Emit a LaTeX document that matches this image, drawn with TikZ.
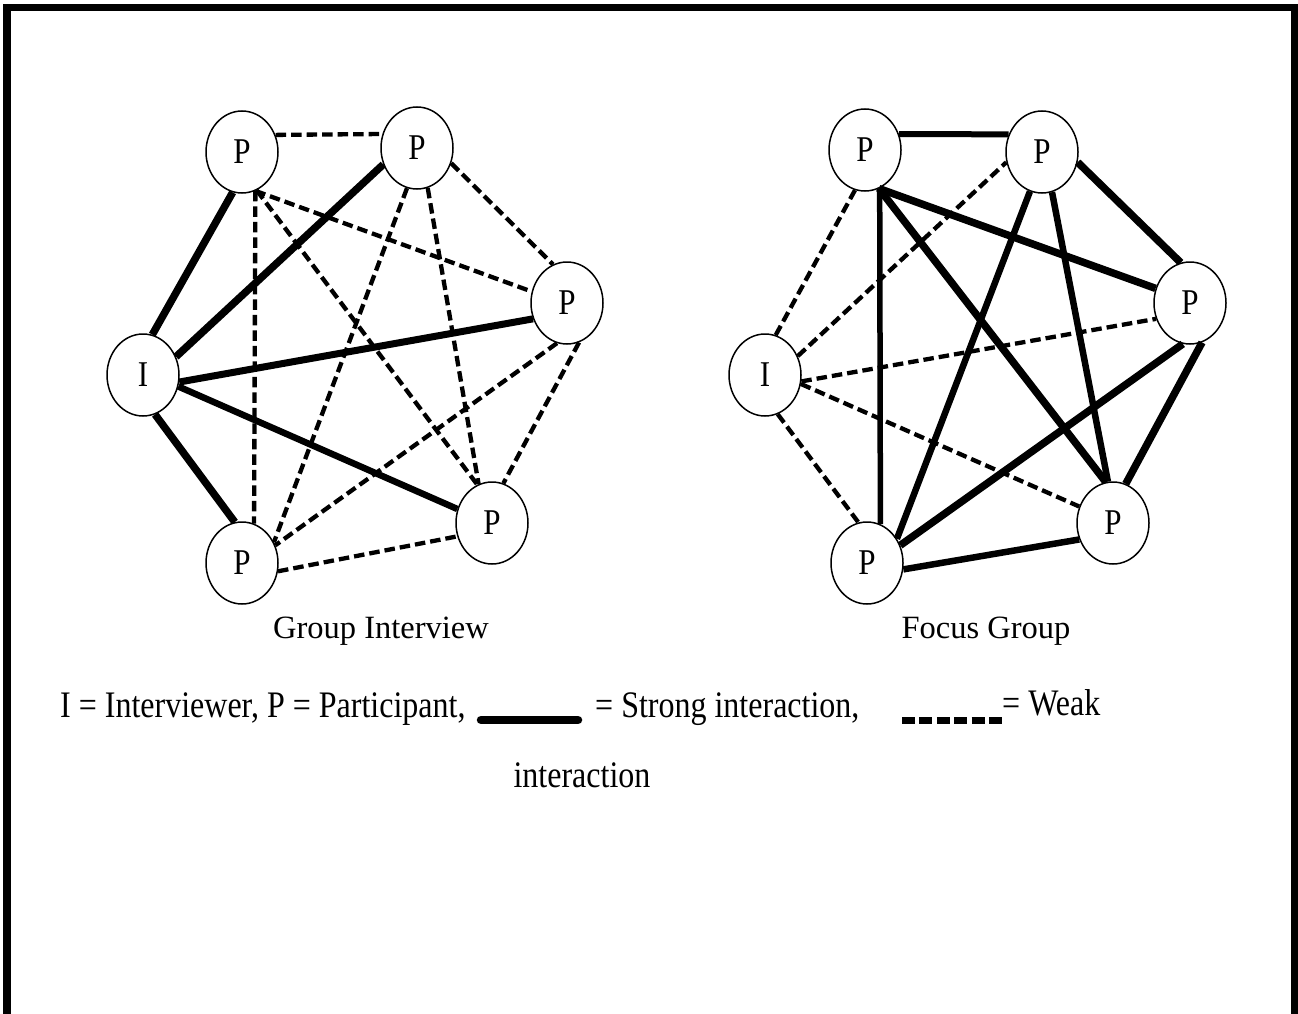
\documentclass[tikz,border=0pt]{standalone}
\usepackage{fontspec}
\setmainfont{Liberation Serif}
\usetikzlibrary{shapes.geometric}
% text in this figure is set slightly taller than wide
\newcommand{\tallstr}[2][1.17]{\scalebox{1}[#1]{#2}}

\begin{document}
\begin{tikzpicture}[x=1pt,y=-1pt,
  person/.style={draw, line width=1.5pt, ellipse, fill=white,
    minimum width=72pt, minimum height=82pt, inner sep=0pt,
    font=\fontsize{31}{34}\selectfont},
  strong/.style={line width=7.5pt},
  weak/.style={line width=4.3pt, dash pattern=on 10.5pt off 5pt},
  caption/.style={inner sep=0pt, anchor=base, font=\fontsize{32.5}{36}\selectfont},
  legend/.style={inner sep=0pt, font=\fontsize{32}{36}\selectfont}]

\useasboundingbox (0,0) rectangle (1298,1014);
% frame open at the bottom
\draw[line width=7.5pt] (7,1030) -- (7,7.5) -- (1294.5,7.5) -- (1294.5,1030);

% ---------- Group interview ----------
\node[person] (gI) at (143,375) {\tallstr{I}};
\node[person] (gA) at (242,152) {\tallstr{P}};
\node[person] (gB) at (417,148) {\tallstr{P}};
\node[person] (gC) at (567,303) {\tallstr{P}};
\node[person] (gD) at (492,523) {\tallstr{P}};
\node[person] (gE) at (242,563) {\tallstr{P}};

\draw[strong] (gI.77) -- (gA.-103);
\draw[strong] (gI.29) -- (gB.-154);
\draw[strong, line width=7pt] (gI.-11) -- (gC.-155);
\draw[strong, line width=6.5pt] (gI.-18) -- (gD.158);
\draw[strong] (gI.-73) -- (gE.100);

\draw[weak] (gA.27) -- (gB.158);
\draw[weak] (gA.-71) -- (gE.73);
\draw[weak] (gA.-71) -- (gC.162);
\draw[weak] (gA.-69) -- (gD.111);
\draw[weak] (gB.-24) -- (gC.110);
\draw[weak] (gB.-104) -- (gE.33);
\draw[weak] (gB.-75) -- (gD.109);
\draw[weak] (gC.-104) -- (gE.28);
\draw[weak] (gC.-73) -- (gD.74);
\draw[weak] (gE.-13) -- (gD.-159);

\node[caption] (gcap) at (381,638) {Group Interview};

% ---------- Focus group ----------
\node[person] (fI) at (765,375) {\tallstr{I}};
\node[person] (fA) at (865,150) {\tallstr{P}};
\node[person] (fB) at (1042,152) {\tallstr{P}};
\node[person] (fC) at (1190,303) {\tallstr{P}};
\node[person] (fD) at (1113,523) {\tallstr{P}};
\node[person] (fE) at (867,563) {\tallstr{P}};

\draw[strong, line width=6pt] (fA.25) -- (fB.152);
\draw[strong, line width=5.5pt] (fA.-69) -- (fE.71);
\draw[strong] (fA.-70) -- (fC.157);
\draw[strong] (fA.-70) -- (fD.100);
\draw[strong] (fB.-16) -- (fC.103);
\draw[strong, line width=6.5pt] (fB.-107) -- (fE.39);
\draw[strong, line width=6.5pt] (fB.-76) -- (fD.97);
\draw[strong] (fC.-100) -- (fE.28);
\draw[strong] (fC.-73) -- (fD.72);
\draw[strong, line width=6.5pt] (fE.-10) -- (fD.-154);

\draw[weak] (fI.75) -- (fA.-104);
\draw[weak] (fI.30) -- (fB.-164);
\draw[weak] (fI.-10) -- (fC.-155);
\draw[weak] (fI.-14) -- (fD.154);
\draw[weak] (fI.-72) -- (fE.102);

\node[caption] (fcap) at (986,638) {Focus Group};

% ---------- Legend ----------
\node[legend, anchor=base west] (l1) at (60,717) {\tallstr{I = Interviewer, P = Participant,}};
\coordinate (sa) at (481,720);
\coordinate (sb) at (578,720);
\draw[line width=8.5pt, line cap=round] (sa) -- (sb);
\node[legend, anchor=base west] (l2) at (595,717) {\tallstr{= Strong interaction,}};
\coordinate (wa) at (902,720);
\coordinate (wb) at (1002,720);
\draw[line width=7pt, dash pattern=on 13pt off 4.4pt] (wa) -- (wb);
\node[legend, anchor=base west] (l3) at (1002,715) {\tallstr{= Weak}};
\node[legend, anchor=base] (l4) at (582,787) {\tallstr{interaction}};
\end{tikzpicture}
\end{document}
